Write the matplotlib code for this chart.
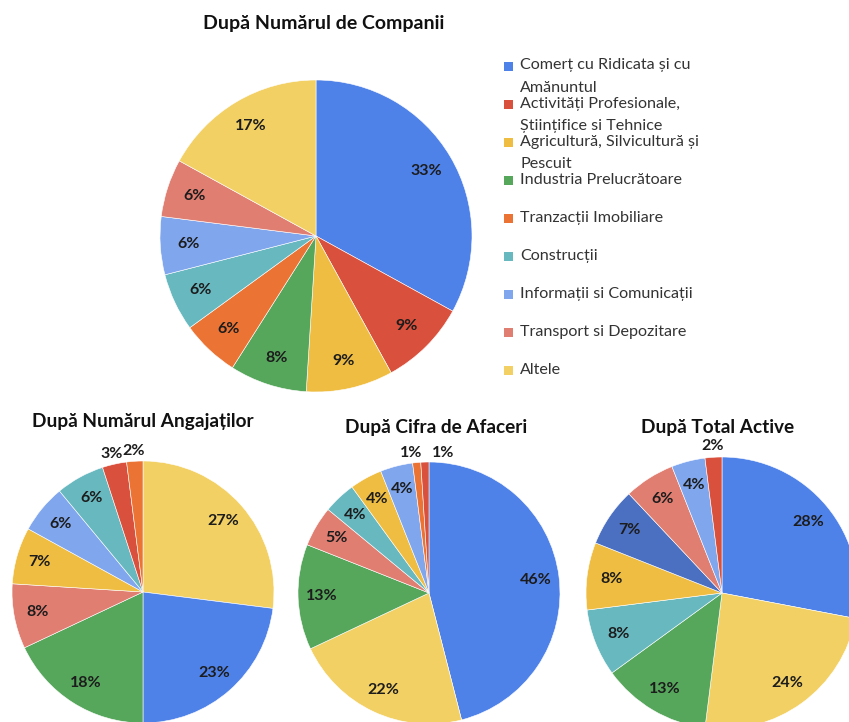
import numpy as np
import matplotlib.pyplot as plt

plt.rcParams['font.family'] = ['Lato', 'DejaVu Sans']

W, H = 849, 722

# culori pe categorie
culori = {
    "Comert": "#4f82e8",
    "Activitati": "#d9503d",
    "Agricultura": "#efbd41",
    "Industria": "#56a65c",
    "Tranzactii": "#eb7434",
    "Constructii": "#68b8c0",
    "Informatii": "#80a6ee",
    "Transport": "#e07e72",
    "Altele": "#f2d064",
    "AlteActive": "#4b6fc1",
}

legenda_chei = ["Comert", "Activitati", "Agricultura", "Industria", "Tranzactii",
                "Constructii", "Informatii", "Transport", "Altele"]
legenda_texte = ["Comerț cu Ridicata și cu\nAmănuntul",
                 "Activități Profesionale,\nȘtiințifice si Tehnice",
                 "Agricultură, Silvicultură și\nPescuit",
                 "Industria Prelucrătoare",
                 "Tranzacții Imobiliare",
                 "Construcții",
                 "Informații si Comunicații",
                 "Transport si Depozitare",
                 "Altele"]

companii_cat = ["Comert", "Activitati", "Agricultura", "Industria", "Tranzactii",
                "Constructii", "Informatii", "Transport", "Altele"]
companii_val = [33, 9, 9, 8, 6, 6, 6, 6, 17]

angajati_cat = ["Altele", "Comert", "Industria", "Transport", "Agricultura",
                "Informatii", "Constructii", "Activitati", "Tranzactii"]
angajati_val = [27, 23, 18, 8, 7, 6, 6, 3, 2]

cifra_cat = ["Comert", "Altele", "Industria", "Transport", "Constructii",
             "Agricultura", "Informatii", "Tranzactii", "Activitati"]
cifra_val = [46, 22, 13, 5, 4, 4, 4, 1, 1]

active_cat = ["Comert", "Altele", "Industria", "Constructii", "Agricultura",
              "AlteActive", "Transport", "Informatii", "Activitati"]
active_val = [28, 24, 13, 8, 8, 7, 6, 4, 2]

fig = plt.figure(figsize=(W / 100, H / 100), dpi=100)
fig.patch.set_facecolor('white')


def deseneaza_pie(cx, cy, r, valori, categorii, titlu, titlu_y, titlu_x, titlu_size):
    ax = fig.add_axes([(cx - r) / W, 1 - (cy + r) / H, 2 * r / W, 2 * r / H])
    wedges, _ = ax.pie(valori, colors=[culori[c] for c in categorii],
                       startangle=90, counterclock=False,
                       wedgeprops=dict(edgecolor='white', linewidth=0.4))
    ax.set_xlim(-1, 1)
    ax.set_ylim(-1, 1)
    ax.set_aspect('auto')
    ax.axis('off')
    texte = []
    for w, v in zip(wedges, valori):
        ang = np.deg2rad((w.theta1 + w.theta2) / 2)
        d = 0.82 if v >= 4 else 1.08
        t = ax.text(d * np.cos(ang), d * np.sin(ang), f"{v}%", ha='center', va='center',
                    fontsize=11.5, fontweight='bold', color='#1c1c1c', clip_on=False)
        texte.append(t)
    fig.text(titlu_x / W, 1 - titlu_y / H, titlu, ha='center', va='center',
             fontsize=titlu_size, fontweight='bold', color='#111111')
    return ax, texte


deseneaza_pie(316, 236, 156, companii_val, companii_cat,
              "După Numărul de Companii", 23, 324, 14)
deseneaza_pie(143, 592, 131, angajati_val, angajati_cat,
              "După Numărul Angajaților", 421, 143, 13.7)
ax_c, texte_c = deseneaza_pie(429, 593, 131, cifra_val, cifra_cat,
                              "După Cifra de Afaceri", 427, 436, 13.7)
# cele doua etichete de 1% se departeaza ca sa nu se suprapuna
texte_c[-2].set_position((-0.14, 1.07))
texte_c[-1].set_position((0.11, 1.07))
deseneaza_pie(722, 593, 136, active_val, active_cat,
              "După Total Active", 427, 718, 13.7)

# legenda
y0 = 66
for i, (k, txt) in enumerate(zip(legenda_chei, legenda_texte)):
    y = y0 + i * 38.1
    fig.patches.append(plt.Rectangle(((504) / W, 1 - (y + 4.5) / H), 9 / W, 9 / H,
                                     transform=fig.transFigure, facecolor=culori[k],
                                     edgecolor='none'))
    fig.text(520 / W, 1 - (y - 7.5) / H, txt, ha='left', va='top', fontsize=11.6,
             color='#333333', linespacing=1.75)

fig.savefig('out.png', dpi=100)
